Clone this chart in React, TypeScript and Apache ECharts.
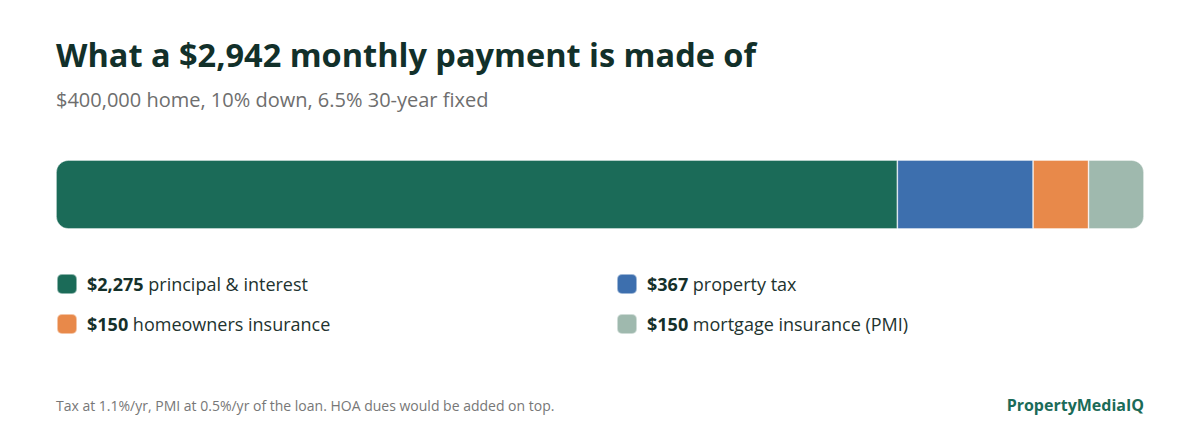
import React, { useEffect, useRef } from 'react';
import * as echarts from 'echarts';

const categories = ['principal & interest', 'property tax', 'homeowners insurance', 'mortgage insurance (PMI)'];
const amounts = [2275, 367, 150, 150];
const colors = ['#1b6b58', '#3d6fae', '#e8894a', '#9fb9ae'];
const total = 2942;

const FONT = '"Open Sans", "Noto Sans", sans-serif';

const money = (v: number) => '$' + v.toLocaleString('en-US');

export default function App() {
    const chartRef = useRef<HTMLDivElement | null>(null);

    useEffect(() => {
        if (!chartRef.current) return;
        const chart = echarts.init(chartRef.current, null, { renderer: 'svg' });

        const legendText = (name: string) => {
            const i = categories.indexOf(name);
            return `{v|${money(amounts[i])}}{s| }{n|${name}}`;
        };
        const legendStyle = {
            fontFamily: FONT,
            padding: [0, 0, 0, 5],
            rich: {
                v: { fontFamily: FONT, fontSize: 18, fontWeight: 700, color: '#15302a', lineHeight: 20 },
                s: { fontFamily: FONT, fontSize: 18, lineHeight: 20 },
                n: { fontFamily: FONT, fontSize: 18, color: '#22332f', lineHeight: 20 },
            },
        };

        const option = {
            animation: false,
            title: [
                {
                    text: `What a ${money(total)} monthly payment is made of`,
                    left: 56,
                    top: 38,
                    padding: 0,
                    textStyle: { fontFamily: FONT, fontSize: 32.5, fontWeight: 700, color: '#12302a' },
                },
                {
                    text: '$400,000 home, 10% down, 6.5% 30-year fixed',
                    left: 56,
                    top: 89,
                    padding: 0,
                    textStyle: { fontFamily: FONT, fontSize: 20, fontWeight: 400, color: '#6e6e6e' },
                },
                {
                    text: 'Tax at 1.1%/yr, PMI at 0.5%/yr of the loan. HOA dues would be added on top.',
                    left: 56,
                    top: 398,
                    padding: 0,
                    textStyle: { fontFamily: FONT, fontSize: 14, fontWeight: 400, color: '#777777' },
                },
                {
                    text: 'PropertyMediaIQ',
                    right: 56,
                    top: 397,
                    padding: 0,
                    textStyle: { fontFamily: FONT, fontSize: 16, fontWeight: 700, color: '#1b6b58' },
                },
            ],
            legend: [
                {
                    data: [categories[0], categories[2]],
                    left: 56,
                    top: 273,
                    padding: 0,
                    orient: 'vertical',
                    itemWidth: 20,
                    itemHeight: 20,
                    itemGap: 18,
                    icon: 'roundRect',
                    selectedMode: false,
                    formatter: legendText,
                    textStyle: legendStyle,
                },
                {
                    data: [categories[1], categories[3]],
                    left: 616,
                    top: 273,
                    padding: 0,
                    orient: 'vertical',
                    itemWidth: 20,
                    itemHeight: 20,
                    itemGap: 18,
                    icon: 'roundRect',
                    selectedMode: false,
                    formatter: legendText,
                    textStyle: legendStyle,
                },
            ],
            grid: { left: 56, right: 56, top: 160, height: 69 },
            xAxis: { type: 'value', min: 0, max: total, show: false },
            yAxis: { type: 'category', data: ['payment'], show: false },
            series: categories.map((name, i) => ({
                name,
                type: 'bar',
                stack: 'total',
                barWidth: 69,
                data: [amounts[i]],
                itemStyle: {
                    color: colors[i],
                    borderColor: 'rgba(255,255,255,0.5)',
                    borderWidth: 0.8,
                    borderRadius:
                        i === 0 ? [12, 0, 0, 12] : i === categories.length - 1 ? [0, 12, 12, 0] : 0,
                },
                emphasis: { disabled: true },
            })),
        };

        chart.setOption(option);
        return () => {
            chart.dispose();
        };
    }, []);

    return (
        <div
            ref={chartRef}
            style={{ position: 'absolute', left: 0, top: 0, width: 1200, height: 440, background: '#fff' }}
        />
    );
}
